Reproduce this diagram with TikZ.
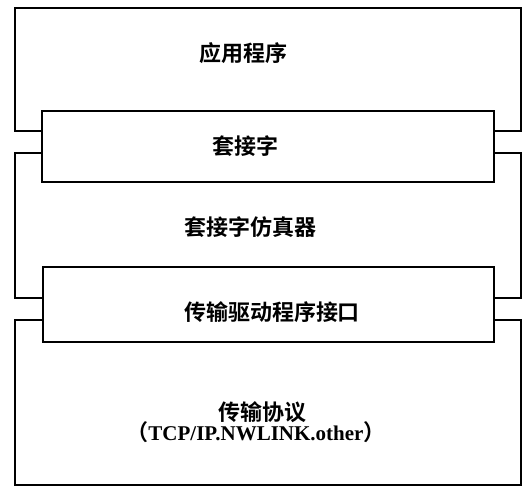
\documentclass[tikz,border=0pt]{standalone}
\usepackage{fontspec}
\newfontfamily\cjk{Noto Sans CJK SC}[BoldFont={* Bold}]
\newfontfamily\latn{Liberation Serif}
\begin{document}
\begin{tikzpicture}[x=1pt,y=-1pt,
  layer/.style={draw=black, line width=2pt, fill=white, rectangle, inner sep=0pt, anchor=north west},
  lbl/.style={font=\fontsize{22}{26}\selectfont\cjk\bfseries, inner sep=0pt, align=center}]
\useasboundingbox (0,0) rectangle (523,486);
\fill[white] (0,0) rectangle (523,486);
\node[layer, minimum width=506pt, minimum height=123pt] (app) at (14,7) {};
\node[layer, minimum width=506pt, minimum height=145pt] (emu) at (14,152) {};
\node[layer, minimum width=506pt, minimum height=165pt] (proto) at (14,319) {};
\node[layer, minimum width=452pt, minimum height=71pt] (sock) at (41,110) {};
\node[layer, minimum width=451pt, minimum height=75pt] (tdi) at (42,266) {};
\node[lbl] (tapp) at (243,53) {应用程序};
\node[lbl] (tsock) at (245,146) {套接字};
\node[lbl] (temu) at (250,227) {套接字仿真器};
\node[lbl] (ttdi) at (272,312) {传输驱动程序接口};
\node[lbl] (tproto) at (262,412) {传输协议};
\node[lbl] (tproto2) at (256,432) {（{\latn\bfseries\fontsize{21}{26}\selectfont TCP/IP.NWLINK.other}）};
\end{tikzpicture}
\end{document}
